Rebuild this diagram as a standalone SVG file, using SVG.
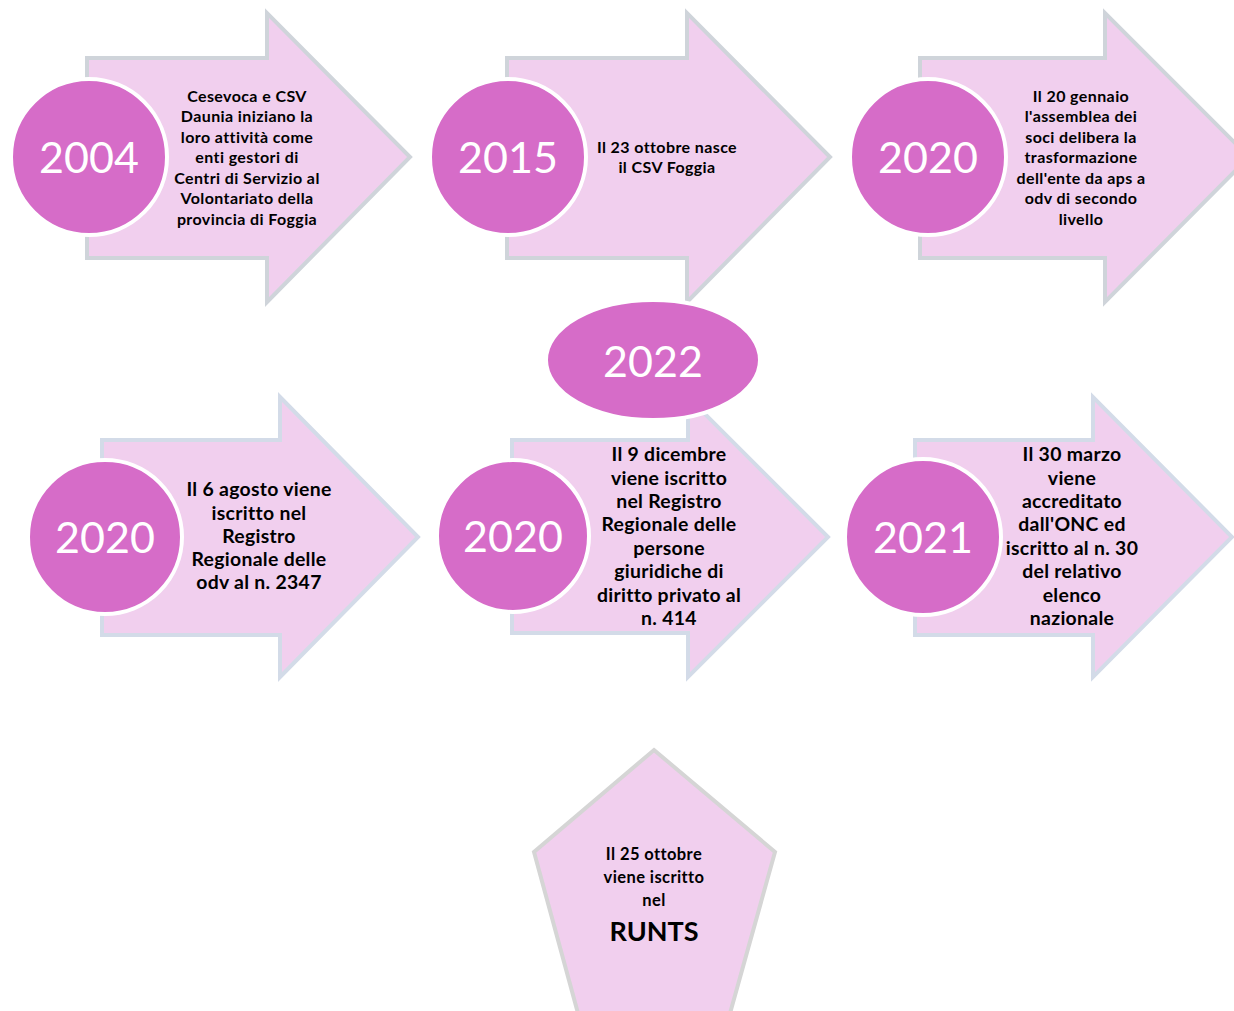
<svg xmlns="http://www.w3.org/2000/svg" width="1234" height="1011" viewBox="0 0 1234 1011">
<style>
.arr{fill:#f1cfee;stroke:#cfd4da;stroke-width:4;stroke-linejoin:miter}
.arr2{fill:#f1cfee;stroke:#d3dbe8;stroke-width:4;stroke-linejoin:miter}
.yr{fill:#d66cc8;stroke:#ffffff;stroke-width:4}
.yt{fill:#ffffff;font-family:Lato,"Open Sans",sans-serif;font-size:43px;text-anchor:middle}
.t1{fill:#000;font-family:Lato,"Open Sans",sans-serif;font-weight:bold;font-size:16px;letter-spacing:0.4px;text-anchor:middle}
.t2{fill:#000;font-family:Lato,"Open Sans",sans-serif;font-weight:bold;font-size:19.4px;letter-spacing:0.3px;text-anchor:middle}
.t3{fill:#000;font-family:Lato,"Open Sans",sans-serif;font-weight:bold;font-size:16.5px;letter-spacing:0.4px;text-anchor:middle}
.pent{fill:#f1cfee;stroke:#d5d5d5;stroke-width:4}
</style>
<rect width="1234" height="1011" fill="#ffffff"/>
<g id="n2004">
<polygon class="arr" points="87,58 267,58 267,13 410,157 267,302 267,258 87,258"/>
<circle class="yr" cx="89" cy="157" r="78"/>
<text class="yt" x="89" y="172.5">2004</text>
<text class="t1" x="247" y="101.5">Cesevoca e CSV</text>
<text class="t1" x="247" y="122">Daunia iniziano la</text>
<text class="t1" x="247" y="142.5">loro attività come</text>
<text class="t1" x="247" y="163">enti gestori di</text>
<text class="t1" x="247" y="183.5">Centri di Servizio al</text>
<text class="t1" x="247" y="204">Volontariato della</text>
<text class="t1" x="247" y="224.5">provincia di Foggia</text>
</g>
<g id="n2015">
<polygon class="arr" points="507,58 687,58 687,13 830,157 687,302 687,258 507,258"/>
<circle class="yr" cx="508" cy="157" r="78"/>
<text class="yt" x="508" y="172.5">2015</text>
<text class="t1" x="667" y="152.5">Il 23 ottobre nasce</text>
<text class="t1" x="667" y="173">il CSV Foggia</text>
</g>
<g id="n2020a">
<polygon class="arr" points="920,58 1105,58 1105,13 1249,157 1105,302 1105,258 920,258"/>
<circle class="yr" cx="928" cy="157" r="78"/>
<text class="yt" x="928" y="172.5">2020</text>
<text class="t1" x="1081" y="101.5">Il 20 gennaio</text>
<text class="t1" x="1081" y="122">l'assemblea dei</text>
<text class="t1" x="1081" y="142.5">soci delibera la</text>
<text class="t1" x="1081" y="163">trasformazione</text>
<text class="t1" x="1081" y="183.5">dell'ente da aps a</text>
<text class="t1" x="1081" y="204">odv di secondo</text>
<text class="t1" x="1081" y="224.5">livello</text>
</g>
<g id="n2020b">
<polygon class="arr2" points="102,440 280,440 280,397 418,537 280,677 280,635 102,635"/>
<circle class="yr" cx="105" cy="537" r="77"/>
<text class="yt" x="105" y="552.5">2020</text>
<text class="t2" x="259" y="496">Il 6 agosto viene</text>
<text class="t2" x="259" y="519.5">iscritto nel</text>
<text class="t2" x="259" y="542.5">Registro</text>
<text class="t2" x="259" y="565.5">Regionale delle</text>
<text class="t2" x="259" y="589">odv al n. 2347</text>
</g>
<g id="n2020c">
<polygon class="arr2" points="512,440 688,440 688,397 828,537 688,677 688,633 512,633"/>
<circle class="yr" cx="513" cy="536" r="76"/>
<text class="yt" x="513" y="551.5">2020</text>
<text class="t2" x="669" y="461">Il 9 dicembre</text>
<text class="t2" x="669" y="484.5">viene iscritto</text>
<text class="t2" x="669" y="507.5">nel Registro</text>
<text class="t2" x="669" y="531">Regionale delle</text>
<text class="t2" x="669" y="554.5">persone</text>
<text class="t2" x="669" y="577.5">giuridiche di</text>
<text class="t2" x="669" y="601.5">diritto privato al</text>
<text class="t2" x="669" y="624.5">n. 414</text>
</g>
<g id="n2022">
<ellipse class="yr" cx="653" cy="360" rx="107" ry="60"/>
<text class="yt" x="653" y="376.5">2022</text>
</g>
<g id="n2021">
<polygon class="arr2" points="915,440 1093,440 1093,397 1232,537 1093,677 1093,635 915,635"/>
<circle class="yr" cx="923" cy="537" r="78"/>
<text class="yt" x="923" y="552.5">2021</text>
<text class="t2" x="1072" y="461">Il 30 marzo</text>
<text class="t2" x="1072" y="484.5">viene</text>
<text class="t2" x="1072" y="507.5">accreditato</text>
<text class="t2" x="1072" y="531">dall'ONC ed</text>
<text class="t2" x="1072" y="554.5">iscritto al n. 30</text>
<text class="t2" x="1072" y="577.5">del relativo</text>
<text class="t2" x="1072" y="601.5">elenco</text>
<text class="t2" x="1072" y="624.5">nazionale</text>
</g>
<g id="runts">
<polygon class="pent" points="654,750 775,852 729,1017 579,1017 534,852"/>
<text class="t3" x="654" y="860">Il 25 ottobre</text>
<text class="t3" x="654" y="883">viene iscritto</text>
<text class="t3" x="654" y="906">nel</text>
<text style="fill:#000;font-family:Lato,'Open Sans',sans-serif;font-weight:bold;font-size:27px;text-anchor:middle" x="654" y="941">RUNTS</text>
</g>
<g id="connectors"/>
</svg>
